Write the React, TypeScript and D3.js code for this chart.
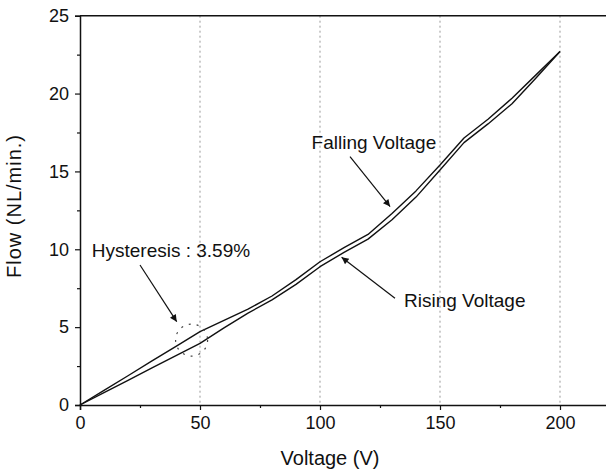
import React, { useEffect, useRef } from "react";
import * as d3 from "d3";

// Voltage steps (V)
const voltage = [0, 10, 20, 30, 40, 50, 60, 70, 80, 90, 100, 110, 120, 130, 140, 150, 160, 170, 180, 190, 200];
// Flow (NL/min.)
const fallingFlow = [0, 0.94, 1.88, 2.83, 3.77, 4.71, 5.43, 6.15, 7.0, 8.05, 9.2, 10.1, 10.95, 12.3, 13.75, 15.41, 17.15, 18.35, 19.7, 21.2, 22.7];
const risingFlow = [0, 0.79, 1.58, 2.38, 3.17, 3.96, 4.95, 5.9, 6.75, 7.75, 8.88, 9.8, 10.65, 11.9, 13.35, 15.09, 16.85, 18.05, 19.35, 21.0, 22.7];

const xTicks = [0, 50, 100, 150, 200];
const yTicks = [0, 5, 10, 15, 20, 25];

const WIDTH = 606;
const HEIGHT = 472;
const FONT = "'Liberation Sans', Arial, sans-serif";

const App = () => {
  const svgRef = useRef<SVGSVGElement>(null);

  useEffect(() => {
    const svg = d3.select(svgRef.current);
    svg.selectAll("*").remove();

    const x = d3.scaleLinear().domain([0, 220]).range([80, 608]);
    const y = d3.scaleLinear().domain([0, 25]).range([405, 15.7]);

    svg.append("rect").attr("width", WIDTH).attr("height", HEIGHT).attr("fill", "white");

    // arrow head
    svg
      .append("defs")
      .append("marker")
      .attr("id", "arr")
      .attr("viewBox", "0 0 10 10")
      .attr("refX", 10)
      .attr("refY", 5)
      .attr("markerWidth", 11)
      .attr("markerHeight", 7)
      .attr("markerUnits", "userSpaceOnUse")
      .attr("orient", "auto")
      .append("path")
      .attr("d", "M0,0 L10,5 L0,10 Z")
      .attr("fill", "#111");

    // vertical dotted grid
    svg
      .append("g")
      .selectAll("line")
      .data(xTicks.filter((d) => d > 0))
      .enter()
      .append("line")
      .attr("x1", (d) => x(d))
      .attr("x2", (d) => x(d))
      .attr("y1", y(25))
      .attr("y2", y(0))
      .attr("stroke", "#999")
      .attr("stroke-width", 1)
      .attr("stroke-dasharray", "2,3");

    // axes
    const xAxisG = svg
      .append("g")
      .attr("transform", `translate(0,${y(0)})`)
      .call(d3.axisBottom(x).tickValues(xTicks).tickSize(5).tickPadding(6).tickFormat(d3.format("d")));
    const xMinor = svg
      .append("g")
      .attr("transform", `translate(0,${y(0)})`)
      .call(d3.axisBottom(x).tickValues([25, 75, 125, 175]).tickSize(3).tickFormat(() => ""));
    xMinor.select("path").remove();

    const yAxisG = svg
      .append("g")
      .attr("transform", `translate(${x(0)},0)`)
      .call(d3.axisLeft(y).tickValues(yTicks).tickSize(5).tickPadding(6).tickFormat(d3.format("d")));
    const yMinor = svg
      .append("g")
      .attr("transform", `translate(${x(0)},0)`)
      .call(d3.axisLeft(y).tickValues([2.5, 7.5, 12.5, 17.5, 22.5]).tickSize(3).tickFormat(() => ""));
    yMinor.select("path").remove();

    [xAxisG, yAxisG, xMinor, yMinor].forEach((g) => {
      g.selectAll("line").attr("stroke", "#111").attr("stroke-width", 1.2);
      g.select("path").attr("stroke", "#111").attr("stroke-width", 1.5);
      g.selectAll("text")
        .style("font-family", FONT)
        .style("font-size", "18px")
        .attr("fill", "#111");
    });

    // top frame
    svg
      .append("line")
      .attr("x1", x(0))
      .attr("x2", WIDTH)
      .attr("y1", y(25))
      .attr("y2", y(25))
      .attr("stroke", "#111")
      .attr("stroke-width", 1.5);

    // curves
    const line = d3
      .line<number>()
      .x((_, i) => x(voltage[i]))
      .y((d) => y(d));

    [fallingFlow, risingFlow].forEach((s) => {
      svg
        .append("path")
        .datum(s)
        .attr("d", line)
        .attr("fill", "none")
        .attr("stroke", "#111")
        .attr("stroke-width", 1.4)
        .attr("stroke-linejoin", "round");
    });

    // axis titles
    svg
      .append("text")
      .attr("x", 330)
      .attr("y", 465)
      .attr("text-anchor", "middle")
      .style("font-family", FONT)
      .style("font-size", "20px")
      .attr("fill", "#111")
      .text("Voltage (V)");

    svg
      .append("text")
      .attr("transform", "rotate(-90)")
      .attr("x", -206)
      .attr("y", 21)
      .attr("text-anchor", "middle")
      .style("font-family", FONT)
      .style("font-size", "20px")
      .style("letter-spacing", "1px")
      .attr("fill", "#111")
      .text("Flow (NL/min.)");

    // annotations
    const note = (vx: number, fy: number, label: string) =>
      svg
        .append("text")
        .attr("x", x(vx))
        .attr("y", y(fy))
        .style("font-family", FONT)
        .style("font-size", "19px")
        .attr("fill", "#111")
        .text(label);

    const arrow = (v1: number, f1: number, v2: number, f2: number) =>
      svg
        .append("line")
        .attr("x1", x(v1))
        .attr("y1", y(f1))
        .attr("x2", x(v2))
        .attr("y2", y(f2))
        .attr("stroke", "#111")
        .attr("stroke-width", 1.2)
        .attr("marker-end", "url(#arr)");

    note(4.9, 9.52, "Hysteresis : 3.59%");
    arrow(25, 8.99, 40.3, 5.35);
    svg
      .append("circle")
      .attr("cx", x(46.5))
      .attr("cy", y(4.17))
      .attr("r", 16)
      .attr("fill", "none")
      .attr("stroke", "#444")
      .attr("stroke-width", 1.2)
      .attr("stroke-dasharray", "2,6");

    note(96.5, 16.45, "Falling Voltage");
    arrow(112.5, 15.95, 129.2, 12.74);

    note(135, 6.31, "Rising Voltage");
    arrow(131.25, 6.85, 109, 9.49);
  }, []);

  return (
    <svg
      ref={svgRef}
      width={WIDTH}
      height={HEIGHT}
      style={{ position: "absolute", left: 0, top: 0 }}
    />
  );
};

export default App;
